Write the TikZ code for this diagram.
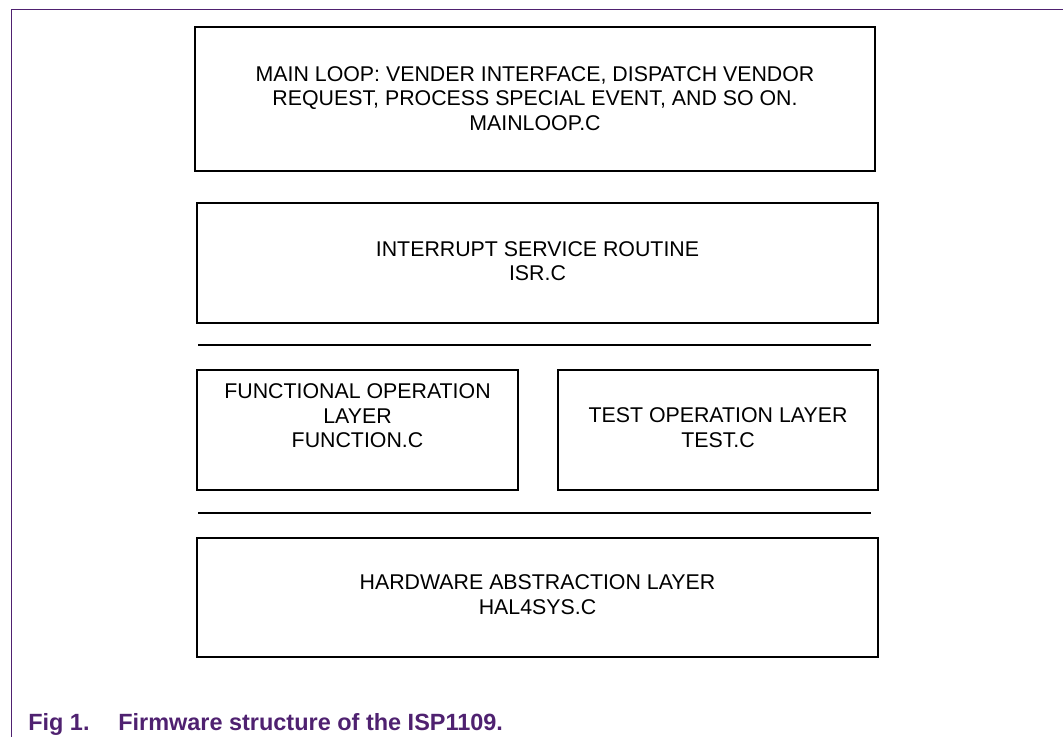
\documentclass[tikz,border=0pt]{standalone}
\usepackage{fontspec}
\setmainfont{Liberation Sans}
\definecolor{figpurple}{RGB}{79,33,112}
\tikzset{
  layer/.style={draw=black, line width=1.5pt, inner sep=0pt, fill=white},
  layertext/.style={align=center, inner sep=0pt, font=\fontsize{16pt}{18.4pt}\selectfont},
  divider/.style={draw=black, line width=1.5pt},
  frameline/.style={draw=figpurple, line width=1pt},
}
\begin{document}
\begin{tikzpicture}[x=0.75pt, y=-0.75pt]
  \useasboundingbox (0,0) rectangle (1063,737);

  % page frame (open on the right and at the bottom)
  \coordinate (ftop) at (1063,9.3);
  \coordinate (fcorner) at (11.3,9.3);
  \coordinate (fbottom) at (11.3,737);
  \draw[frameline] (ftop) -- (fcorner) -- (fbottom);

  % layers
  \node[layer, minimum width=510pt, minimum height=108pt] (mainloop) at (535,99) {};
  \node[layertext] (mainlooptxt) at (535,98.5)
    {MAIN LOOP: VENDER INTERFACE, DISPATCH VENDOR\\REQUEST, PROCESS SPECIAL EVENT, AND SO ON.\\MAINLOOP.C};

  \node[layer, minimum width=510.75pt, minimum height=90pt] (isr) at (537.5,263) {};
  \node[layertext] (isrtxt) at (537.5,261) {INTERRUPT SERVICE ROUTINE\\ISR.C};

  \coordinate (d1l) at (198,345.5);
  \coordinate (d1r) at (871,345.5);
  \draw[divider] (d1l) -- (d1r);

  \node[layer, minimum width=240.75pt, minimum height=90pt] (func) at (357.5,430) {};
  \node[layertext] (functxt) at (357.5,416) {FUNCTIONAL OPERATION\\LAYER\\FUNCTION.C};

  \node[layer, minimum width=240pt, minimum height=90pt] (test) at (718,430) {};
  \node[layertext] (testtxt) at (718,427.5) {TEST OPERATION LAYER\\TEST.C};

  \coordinate (d2l) at (198,513);
  \coordinate (d2r) at (871,513);
  \draw[divider] (d2l) -- (d2r);

  \node[layer, minimum width=510.75pt, minimum height=89.25pt] (hal) at (537.5,597.5) {};
  \node[layertext] (haltxt) at (537.5,594.5) {HARDWARE ABSTRACTION LAYER\\HAL4SYS.C};

  % caption
  \node[anchor=base west, inner sep=0pt, text=figpurple,
        font=\fontsize{17.6pt}{20pt}\selectfont\bfseries] (caption) at (28,730)
    {\makebox[67.5pt][l]{Fig 1.}Firmware structure of the ISP1109.};
\end{tikzpicture}
\end{document}
